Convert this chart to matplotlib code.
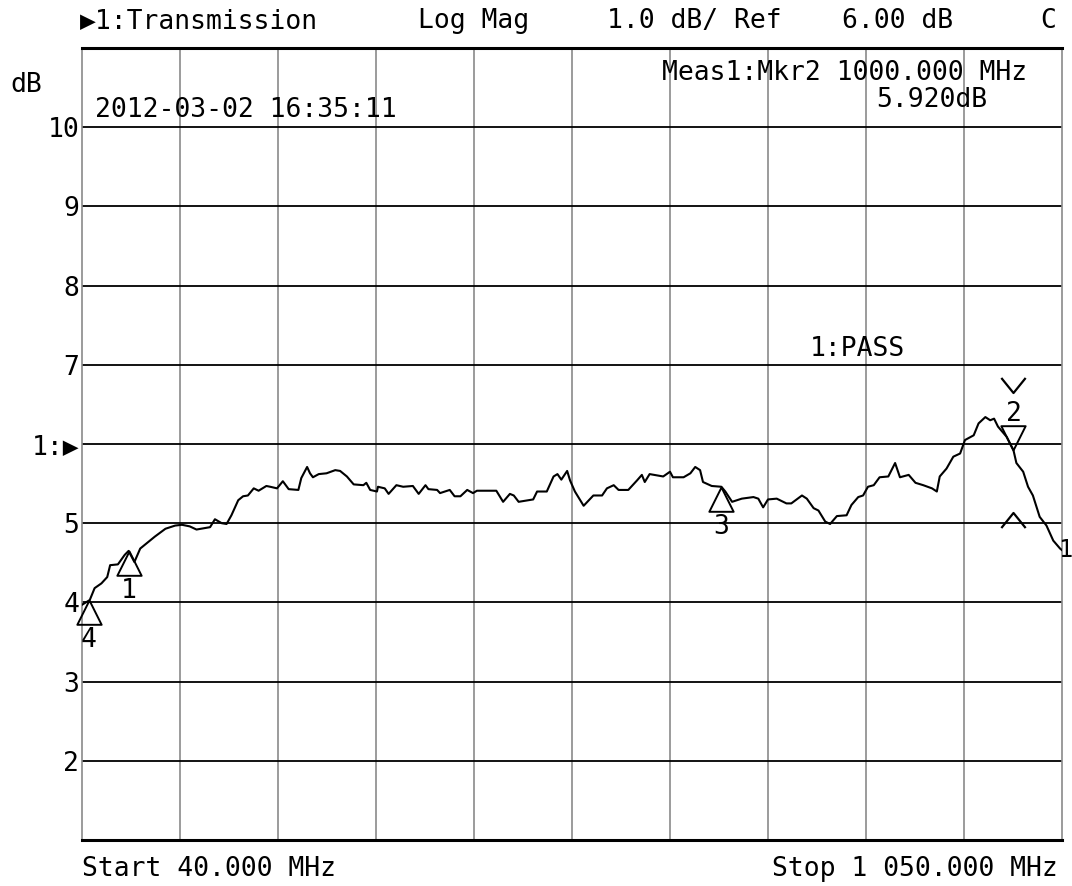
import numpy as np
import matplotlib
matplotlib.use("Agg")
import matplotlib.pyplot as plt
from matplotlib.path import Path

# ── trace data ─────────────────────────────────────────────────────
freq_mhz = [
    40, 48, 53, 60, 66, 69, 77, 84, 88, 94, 100, 105, 115, 126, 136, 143,
    151, 158, 172, 177, 184, 189, 194, 201, 206, 211, 217, 222, 230, 234,
    241, 247, 253, 263, 266, 272, 275, 278, 284, 292, 301, 306, 313, 320,
    330, 333, 337, 344, 345, 352, 356, 364, 371, 381, 387, 394, 397, 406,
    409, 419, 424, 430, 437, 443, 447, 467, 474, 481, 485, 490, 505, 509,
    519, 526, 530, 534, 540, 543, 548, 557, 567, 576, 581, 588, 593, 603,
    612, 617, 620, 625, 639, 646, 649, 660, 667, 672, 677, 680, 689, 699,
    703, 710, 720, 732, 737, 742, 747, 756, 766, 771, 782, 787, 794, 799,
    806, 811, 818, 828, 833, 840, 845, 850, 856, 862, 871, 878, 883, 892,
    899, 907, 916, 921, 924, 931, 938, 945, 950, 959, 964, 971, 976, 980,
    984, 993, 1000, 1003, 1010, 1015, 1020, 1027, 1034, 1041, 1048, 1050,
]
gain_db = [
    3.97, 4.03, 4.18, 4.24, 4.32, 4.47, 4.48, 4.60, 4.65, 4.51, 4.68, 4.73,
    4.83, 4.93, 4.97, 4.98, 4.96, 4.92, 4.95, 5.05, 5.00, 4.99, 5.10, 5.29,
    5.34, 5.35, 5.44, 5.41, 5.47, 5.46, 5.44, 5.53, 5.43, 5.42, 5.57, 5.71,
    5.63, 5.58, 5.62, 5.63, 5.67, 5.66, 5.59, 5.49, 5.48, 5.51, 5.42, 5.40,
    5.46, 5.44, 5.37, 5.48, 5.46, 5.47, 5.37, 5.48, 5.43, 5.42, 5.38, 5.42,
    5.34, 5.34, 5.42, 5.38, 5.41, 5.41, 5.27, 5.37, 5.35, 5.27, 5.30, 5.40,
    5.40, 5.59, 5.62, 5.55, 5.66, 5.54, 5.40, 5.22, 5.35, 5.35, 5.44, 5.48,
    5.42, 5.42, 5.54, 5.61, 5.52, 5.62, 5.59, 5.65, 5.58, 5.58, 5.63, 5.71,
    5.67, 5.52, 5.47, 5.46, 5.40, 5.27, 5.31, 5.33, 5.31, 5.20, 5.30, 5.31,
    5.25, 5.25, 5.35, 5.31, 5.19, 5.16, 5.02, 4.99, 5.09, 5.10, 5.23, 5.33,
    5.35, 5.46, 5.48, 5.58, 5.59, 5.76, 5.58, 5.61, 5.51, 5.48, 5.44, 5.40,
    5.59, 5.69, 5.84, 5.88, 6.05, 6.11, 6.26, 6.34, 6.30, 6.32, 6.22, 6.09,
    5.92, 5.76, 5.65, 5.46, 5.35, 5.08, 4.97, 4.78, 4.68, 4.66,
]

# markers: number, frequency, value
mkr_num  = ["1", "2", "3", "4"]
mkr_freq = [88, 1000, 699, 47]
mkr_db   = [4.65, 5.92, 5.46, 4.03]

# limit indicators drawn at marker 2
lim_hi_db = 6.74
lim_lo_db = 5.04

y_ticks  = [2, 3, 4, 5, 6, 7, 8, 9, 10]
y_labels = ["2", "3", "4", "5", "1:\u25b6", "7", "8", "9", "10"]
x_start, x_stop, x_div = 40, 1050, 10
y_bot, y_top = 1, 11

# ── styling ────────────────────────────────────────────────────────
W, H = 1072, 886
FONT = ["DejaVu Sans Mono", "DejaVu Sans"]
FS = 19
GRAY = "#8a8a8a"

fig = plt.figure(figsize=(W / 100, H / 100), dpi=100, facecolor="white")
ax = fig.add_axes([82 / W, 1 - 840 / H, 980 / W, 792 / H])
ax.set_xlim(x_start, x_stop)
ax.set_ylim(y_bot, y_top)

# graticule
for xv in np.linspace(x_start, x_stop, x_div + 1)[1:-1]:
    ax.axvline(xv, color=GRAY, lw=1.2, zorder=1)
for yv in y_ticks:
    ax.axhline(yv, color="black", lw=1.3, zorder=1)
for side in ["left", "right"]:
    ax.spines[side].set_color(GRAY)
    ax.spines[side].set_linewidth(1.2)
for side in ["top", "bottom"]:
    ax.spines[side].set_color("black")
    ax.spines[side].set_linewidth(2.2)

ax.set_xticks([])
ax.set_yticks(y_ticks)
ax.set_yticklabels(y_labels, fontsize=FS, family=FONT)
ax.tick_params(axis="y", length=0, pad=2)

# trace
ax.plot(freq_mhz, gain_db, color="black", lw=1.5, zorder=3)

# marker triangles: apex sits on the trace
tri_up = Path([(0, 0), (-0.5, -1), (0.5, -1), (0, 0)],
              [Path.MOVETO, Path.LINETO, Path.LINETO, Path.CLOSEPOLY])
tri_dn = Path([(0, 0), (-0.5, 1), (0.5, 1), (0, 0)],
              [Path.MOVETO, Path.LINETO, Path.LINETO, Path.CLOSEPOLY])
for n, f, v in zip(mkr_num, mkr_freq, mkr_db):
    if n == "2":
        ax.plot(f, v, marker=tri_dn, ms=35, mfc="none", mec="black",
                mew=1.4, zorder=4, clip_on=False)
        ax.annotate(n, (f, v), xytext=(0, 26), textcoords="offset points",
                    ha="center", va="center", fontsize=FS, family=FONT)
    else:
        ax.plot(f, v, marker=tri_up, ms=35, mfc="none", mec="black",
                mew=1.4, zorder=4, clip_on=False)
        ax.annotate(n, (f, v), xytext=(0, -29), textcoords="offset points",
                    ha="center", va="center", fontsize=FS, family=FONT)

# limit chevrons (open paths)
chev_dn = Path([(-0.5, 0.31), (0, -0.31), (0.5, 0.31)])
chev_up = Path([(-0.5, -0.31), (0, 0.31), (0.5, -0.31)])
ax.plot(mkr_freq[1], lim_hi_db, marker=chev_dn, ms=17.5, mfc="none",
        mec="black", mew=1.6, ls="none", zorder=4)
ax.plot(mkr_freq[1], lim_lo_db, marker=chev_up, ms=17.5, mfc="none",
        mec="black", mew=1.6, ls="none", zorder=4)


def px_text(x, y, s, ha="left", fs=FS):
    fig.text(x / W, 1 - y / H, s, ha=ha, va="center", fontsize=fs, family=FONT)


# trace id just right of the trace end
px_text(1072, 550, "1", ha="right", fs=17)

# header line
px_text(80, 21, "\u25b61:Transmission")
px_text(418, 21, "Log Mag")
px_text(607, 21, "1.0 dB/ Ref")
px_text(842, 21, "6.00 dB")
px_text(1040, 21, "C")

px_text(10, 85, "dB")
px_text(95, 110, "2012-03-02 16:35:11")
px_text(1027, 73, "Meas1:Mkr2 1000.000 MHz", ha="right")
px_text(987, 100, "5.920dB", ha="right")
px_text(810, 349, "1:PASS")

px_text(82, 869, "Start 40.000 MHz")
px_text(1058, 869, "Stop 1 050.000 MHz", ha="right")

fig.savefig("out.png", dpi=100, facecolor="white")
